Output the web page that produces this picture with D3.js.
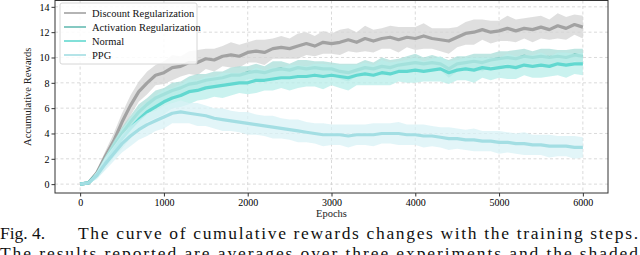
<!DOCTYPE html>
<html>
<head>
    <meta charset="utf-8">
    <script src="https://cdn.jsdelivr.net/npm/d3@7"></script>
    <style>
        body { margin: 0; background: #fff; }
        text { font-family: "Liberation Serif", "Times New Roman", serif; }
    </style>
</head>
<body>
    <script>
        // epochs sampled every 100 steps
        var epochs = d3.range(0, 6001, 100);

        var seriesNames = ['Discount Regularization', 'Activation Regularization', 'Normal', 'PPG'];

        var discount = [
            0, 0.1, 0.9, 2.2, 3.4, 4.9, 6.2, 7.3, 8.0, 8.6,
            8.8, 9.2, 9.3, 9.6, 9.6, 9.9, 9.8, 10.1, 10.2, 10.1,
            10.4, 10.5, 10.4, 10.7, 10.8, 10.7, 10.9, 11.1, 10.9, 11.2,
            11.1, 11.2, 11.4, 11.2, 11.5, 11.3, 11.5, 11.6, 11.4, 11.6,
            11.5, 11.7, 11.5, 11.4, 11.3, 11.6, 11.9, 12.0, 12.2, 12.0,
            12.1, 12.3, 12.1, 12.3, 12.2, 12.4, 12.2, 12.5, 12.3, 12.6,
            12.4
        ];
        var activation = [
            0, 0.1, 0.8, 1.9, 3.0, 4.0, 4.9, 5.7, 6.3, 6.8,
            7.1, 7.4, 7.6, 7.9, 8.0, 8.2, 8.3, 8.4, 8.6, 8.6,
            8.8, 8.9, 8.8, 9.0, 9.1, 9.0, 9.2, 9.1, 9.2, 9.1,
            9.1, 8.9, 8.8, 9.0, 9.2, 9.1, 9.3, 9.2, 9.4, 9.5,
            9.6, 9.5, 9.6, 9.5, 9.1, 9.5, 9.6, 9.7, 9.6, 9.8,
            9.9, 10.0, 9.9, 10.1, 10.0, 10.1, 10.0, 10.1, 10.0, 10.2,
            10.1
        ];
        var normal = [
            0, 0.1, 0.7, 1.7, 2.7, 3.6, 4.4, 5.1, 5.7, 6.1,
            6.5, 6.8, 7.0, 7.3, 7.4, 7.6, 7.7, 7.8, 7.9, 8.0,
            8.0, 8.2, 8.2, 8.3, 8.4, 8.4, 8.5, 8.5, 8.6, 8.5,
            8.6, 8.5, 8.4, 8.6, 8.7, 8.6, 8.8, 8.7, 8.9, 8.9,
            9.0, 8.9, 9.0, 9.1, 8.8, 9.0, 9.1, 9.0, 9.2, 9.1,
            9.2, 9.3, 9.2, 9.4, 9.3, 9.4, 9.3, 9.5, 9.4, 9.5,
            9.5
        ];
        var ppg = [
            0, 0.1, 0.7, 1.6, 2.4, 3.2, 3.8, 4.3, 4.7, 5.0,
            5.3, 5.6, 5.7, 5.6, 5.5, 5.4, 5.2, 5.1, 5.0, 4.9,
            4.8, 4.7, 4.6, 4.5, 4.4, 4.3, 4.2, 4.1, 4.0, 3.9,
            3.9, 3.9, 3.8, 3.9, 3.9, 3.9, 4.0, 4.0, 4.0, 3.9,
            3.9, 3.8, 3.8, 3.7, 3.6, 3.6, 3.5, 3.5, 3.4, 3.4,
            3.3, 3.3, 3.2, 3.2, 3.1, 3.1, 3.0, 3.0, 3.0, 2.9,
            2.9
        ];

        // half-width of the shaded band around each curve
        var discountSpread = [
            0, 0.05, 0.2, 0.4, 0.6, 0.7, 0.8, 0.8, 0.9, 0.8,
            0.9, 1.0, 0.8, 0.9, 1.0, 0.8, 0.9, 0.8, 1.0, 0.9,
            0.8, 0.9, 1.0, 0.8, 0.9, 0.8, 1.0, 0.9, 0.8, 0.9,
            0.8, 1.0, 0.9, 0.8, 1.0, 0.9, 0.8, 0.9, 1.0, 0.8,
            0.9, 1.0, 0.8, 0.9, 1.0, 0.8, 0.9, 1.0, 0.8, 0.9,
            0.8, 1.0, 0.9, 0.8, 1.0, 0.9, 0.8, 1.0, 0.9, 0.8,
            0.9
        ];
        var activationSpread = [
            0, 0.05, 0.2, 0.3, 0.4, 0.5, 0.5, 0.6, 0.5, 0.6,
            0.5, 0.6, 0.5, 0.6, 0.7, 0.5, 0.6, 0.5, 0.6, 0.7,
            0.5, 0.6, 0.5, 0.7, 0.6, 0.5, 0.6, 0.7, 0.5, 0.6,
            0.5, 0.6, 0.7, 0.5, 0.6, 0.5, 0.7, 0.6, 0.5, 0.6,
            0.7, 0.5, 0.6, 0.5, 0.7, 0.6, 0.5, 0.6, 0.7, 0.5,
            0.6, 0.5, 0.7, 0.6, 0.5, 0.6, 0.7, 0.5, 0.6, 0.5,
            0.6
        ];
        var normalSpread = [
            0, 0.05, 0.3, 0.5, 0.6, 0.8, 0.8, 0.9, 0.8, 0.9,
            1.0, 0.8, 0.9, 1.0, 0.8, 0.9, 0.8, 1.0, 0.9, 0.8,
            0.9, 1.0, 0.8, 0.9, 0.8, 1.0, 0.9, 0.8, 0.9, 1.0,
            0.8, 0.9, 1.0, 0.8, 0.9, 0.8, 1.0, 0.9, 0.8, 0.9,
            1.0, 0.8, 0.9, 1.0, 0.9, 0.8, 0.9, 1.0, 0.8, 0.9,
            0.8, 1.0, 0.9, 0.8, 0.9, 1.0, 0.8, 0.9, 1.0, 0.8,
            0.9
        ];
        var ppgSpread = [
            0, 0.05, 0.3, 0.5, 0.6, 0.7, 0.8, 0.8, 0.9, 0.8,
            0.9, 0.8, 0.9, 0.8, 0.9, 0.8, 0.8, 0.9, 0.8, 0.8,
            0.9, 0.8, 0.8, 0.9, 0.8, 0.8, 0.9, 0.8, 0.8, 0.9,
            0.8, 0.8, 0.9, 0.8, 0.8, 0.9, 0.8, 0.8, 0.9, 0.8,
            0.8, 0.9, 0.8, 0.8, 0.9, 0.8, 0.8, 0.9, 0.8, 0.8,
            0.9, 0.8, 0.8, 0.9, 0.8, 0.8, 0.9, 0.8, 0.8, 0.9,
            0.8
        ];

        var xTicks = [0, 1000, 2000, 3000, 4000, 5000, 6000];
        var yTicks = [0, 2, 4, 6, 8, 10, 12, 14];

        var lineColors = ['#a2a2a2', '#66bcb3', '#62d8d0', '#a3dee3'];
        var bandColors = ['#d4d4d4', '#a9ddd8', '#b8eeea', '#d8f2f5'];

        var series = [
            { name: seriesNames[0], mean: discount, spread: discountSpread },
            { name: seriesNames[1], mean: activation, spread: activationSpread },
            { name: seriesNames[2], mean: normal, spread: normalSpread },
            { name: seriesNames[3], mean: ppg, spread: ppgSpread }
        ];

        var W = 640, H = 255;
        var pL = 55, pR = 608, pT = 0.5, pB = 193;

        var svg = d3.select('body').append('svg')
            .attr('width', W).attr('height', H);

        var x = d3.scaleLinear().domain([-300, 6300]).range([pL, pR]);
        var y = d3.scaleLinear().domain([-0.7, 14.5]).range([pB, pT]);

        // grid
        var grid = svg.append('g').attr('stroke', '#d0d0d0').attr('stroke-dasharray', '3,2.5').attr('stroke-width', 0.8);
        grid.selectAll('.gx').data(xTicks).enter().append('line')
            .attr('x1', function (d) { return x(d); }).attr('x2', function (d) { return x(d); })
            .attr('y1', pT).attr('y2', pB);
        grid.selectAll('.gy').data(yTicks).enter().append('line')
            .attr('y1', function (d) { return y(d); }).attr('y2', function (d) { return y(d); })
            .attr('x1', pL).attr('x2', pR);

        var area = d3.area()
            .x(function (d, i) { return x(epochs[i]); })
            .y0(function (d) { return y(d[0] - d[1]); })
            .y1(function (d) { return y(d[0] + d[1]); });
        var line = d3.line()
            .x(function (d, i) { return x(epochs[i]); })
            .y(function (d) { return y(d); });

        series.forEach(function (s, k) {
            var pairs = s.mean.map(function (m, i) { return [m, s.spread[i]]; });
            svg.append('path').datum(pairs)
                .attr('d', area)
                .attr('fill', bandColors[k])
                .attr('fill-opacity', 0.75);
            svg.append('path').datum(s.mean)
                .attr('d', line)
                .attr('fill', 'none')
                .attr('stroke', lineColors[k])
                .attr('stroke-width', 3.2)
                .attr('stroke-linejoin', 'round');
        });

        // axes
        var xAxis = svg.append('g').attr('transform', 'translate(0,' + pB + ')')
            .call(d3.axisBottom(x).tickValues(xTicks).tickSize(3.5).tickPadding(2).tickFormat(d3.format('d')));
        var yAxis = svg.append('g').attr('transform', 'translate(' + pL + ',0)')
            .call(d3.axisLeft(y).tickValues(yTicks).tickSize(3.5).tickPadding(2).tickFormat(d3.format('d')));
        [xAxis, yAxis].forEach(function (a) {
            a.select('.domain').remove();
            a.selectAll('line').attr('stroke', '#333');
            a.selectAll('text').attr('font-family', '"Liberation Serif", serif').attr('font-size', 10).attr('fill', '#000');
        });

        svg.append('rect')
            .attr('x', pL).attr('y', pT)
            .attr('width', pR - pL).attr('height', pB - pT)
            .attr('fill', 'none').attr('stroke', '#333').attr('stroke-width', 1);

        svg.append('text')
            .attr('x', (pL + pR) / 2).attr('y', 217)
            .attr('text-anchor', 'middle').attr('font-size', 10.5).attr('fill', '#222')
            .text('Epochs');
        svg.append('text')
            .attr('transform', 'translate(31,' + ((pT + pB) / 2) + ') rotate(-90)')
            .attr('text-anchor', 'middle').attr('font-size', 10.5).attr('fill', '#222')
            .text('Accumulative Rewards');

        // legend
        var lg = svg.append('g');
        lg.append('rect')
            .attr('x', 60).attr('y', 3).attr('width', 137).attr('height', 61)
            .attr('rx', 2).attr('fill', '#fff').attr('fill-opacity', 0.85)
            .attr('stroke', '#d6d6d6');
        seriesNames.forEach(function (n, i) {
            var ly = 13 + i * 14;
            lg.append('line')
                .attr('x1', 64).attr('x2', 86).attr('y1', ly).attr('y2', ly)
                .attr('stroke', lineColors[i]).attr('stroke-width', 1.6);
            lg.append('text')
                .attr('x', 92).attr('y', ly + 3.5)
                .attr('font-size', 10.5).attr('fill', '#111')
                .text(n);
        });

        // caption
        svg.append('text')
            .attr('x', 0).attr('y', 239).attr('font-size', 17.5).attr('fill', '#111')
            .text('Fig. 4.');
        svg.append('text')
            .attr('x', 78).attr('y', 239).attr('font-size', 17.5).attr('fill', '#111')
            .attr('textLength', 560).attr('lengthAdjust', 'spacing')
            .text('The curve of cumulative rewards changes with the training steps.');
        svg.append('text')
            .attr('x', 0).attr('y', 259).attr('font-size', 17.5).attr('fill', '#111')
            .attr('textLength', 638).attr('lengthAdjust', 'spacing')
            .text('The results reported are averages over three experiments and the shaded');
    </script>
</body>
</html>
